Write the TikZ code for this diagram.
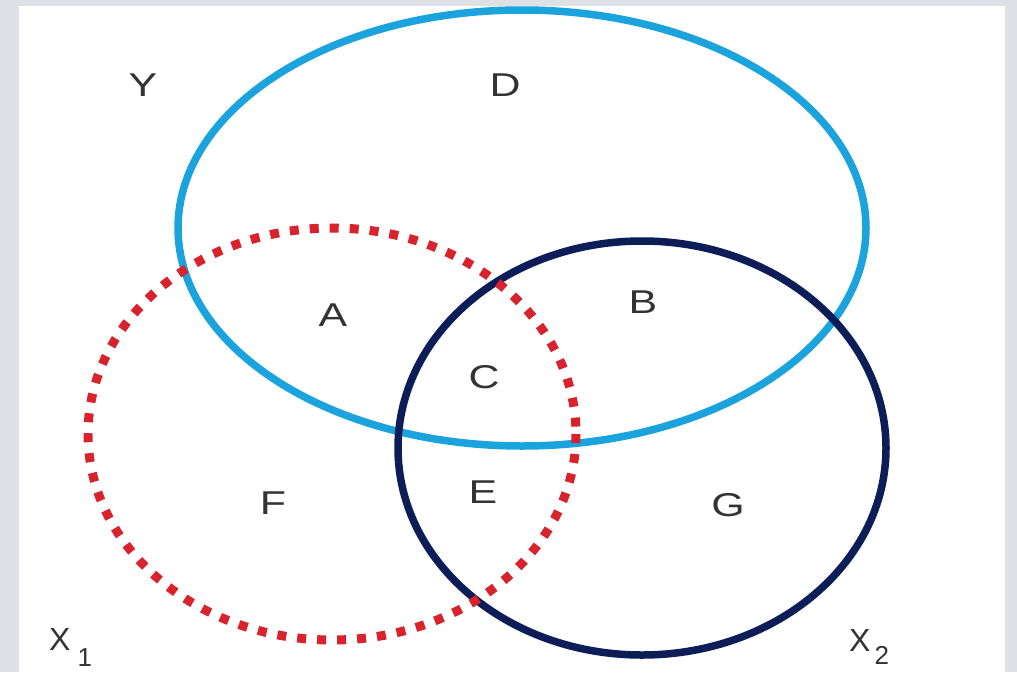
\documentclass[tikz,border=0pt]{standalone}
\usepackage{fontspec}
\setmainfont{Liberation Sans}
\definecolor{pagegray}{HTML}{DDE1E5}
\definecolor{skyline}{HTML}{1BA3DD}
\definecolor{navyline}{HTML}{0C1D57}
\definecolor{dotred}{HTML}{D8222C}
\begin{document}
\begin{tikzpicture}[x=1pt,y=-1pt,
  setlbl/.style={inner sep=0pt,font=\fontsize{33}{36}\selectfont,xscale=1.3,text=black!80},
  axlbl/.style={inner sep=0pt,anchor=base west,font=\fontsize{32}{34}\selectfont,text=black!80},
  skyset/.style={draw=skyline,line width=7.5pt},
  navyset/.style={draw=navyline,line width=7.5pt},
  redset/.style={draw=dotred,line width=9pt,dash pattern=on 9pt off 11pt}]
\useasboundingbox (0,0) rectangle (1017,672);
\fill[pagegray] (0,0) rectangle (1017,672);
\fill[white] (19,6) rectangle (1005,672);
% sets
\draw[skyset] (522,228) ellipse [x radius=344, y radius=218];
\draw[navyset] (642,448) ellipse [x radius=244, y radius=207];
\draw[redset] (332,434) ellipse [x radius=244, y radius=206];
% labels
\node[setlbl] (y) at (143,85) {Y};
\node[setlbl] (d) at (505,85) {D};
\node[setlbl] (a) at (333,315) {A};
\node[setlbl] (b) at (643,302) {B};
\node[setlbl] (c) at (484,377) {C};
\node[setlbl] (f) at (273,503) {F};
\node[setlbl] (e) at (483,492) {E};
\node[setlbl] (g) at (728,505) {G};
\node[axlbl] (x1) at (49,650) {X\hspace{7pt}\raisebox{-16pt}{\fontsize{26}{26}\selectfont 1}};
\node[axlbl] (x2) at (849,651) {X\hspace{4pt}\raisebox{-13pt}{\fontsize{26}{26}\selectfont 2}};
\end{tikzpicture}
\end{document}
